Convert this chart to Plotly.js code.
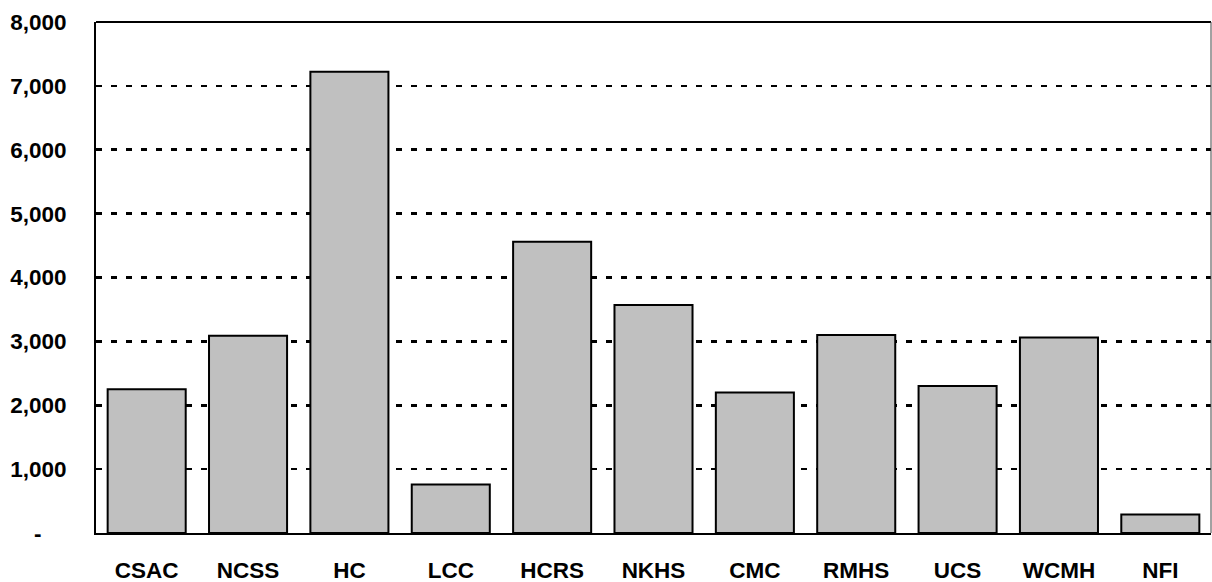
<!DOCTYPE html>
<html>
<head>
<meta charset="utf-8">
<script src="https://cdn.plot.ly/plotly-3.0.1.min.js"></script>
<style>html,body{margin:0;padding:0;background:#fff;}#chart{width:1212px;height:582px;}</style>
</head>
<body>
<div id="chart"></div>
<script>
const categories = ["CSAC","NCSS","HC","LCC","HCRS","NKHS","CMC","RMHS","UCS","WCMH","NFI"];
const values = [2250, 3090, 7220, 760, 4560, 3570, 2200, 3100, 2300, 3060, 290];
const yTickVals = [0,1000,2000,3000,4000,5000,6000,7000,8000];
const yTickText = ["-\u00A0\u00A0\u00A0\u00A0","1,000","2,000","3,000","4,000","5,000","6,000","7,000","8,000"];

const font = {family: "Liberation Sans, Arial, sans-serif", size: 22.5, color: "#000", weight: "bold"};

const trace = {
  type: "bar",
  x: categories,
  y: values,
  marker: {color: "#C0C0C0", line: {color: "#000", width: 2}},
  hoverinfo: "x+y"
};

const layout = {
  width: 1212, height: 582,
  margin: {l: 96, r: 1, t: 22, b: 49},
  paper_bgcolor: "#fff", plot_bgcolor: "#fff",
  bargap: 0.23,
  showlegend: false,
  font: font,
  xaxis: {
    type: "category",
    showgrid: false,
    showline: true, linecolor: "#000", linewidth: 2,
    ticks: "outside", ticklen: 16, tickcolor: "rgba(0,0,0,0)",
    tickfont: font,
    mirror: false
  },
  yaxis: {
    range: [0, 8000],
    tickvals: yTickVals, ticktext: yTickText,
    showgrid: true, gridcolor: "#000", gridwidth: 2.7, griddash: "6px,9px",
    showline: true, linecolor: "#000", linewidth: 2,
    ticks: "outside", ticklen: 23, tickcolor: "rgba(0,0,0,0)",
    tickfont: font,
    zeroline: false
  },
  shapes: [
    {type: "line", xref: "paper", yref: "paper", x0: 0, x1: 1, y0: 1, y1: 1, line: {color: "#000", width: 2}},
    {type: "line", xref: "paper", yref: "paper", x0: 1, x1: 1, y0: 0, y1: 1, line: {color: "#444", width: 1}}
  ]
};

Plotly.newPlot("chart", [trace], layout, {displayModeBar: false, staticPlot: true});
</script>
</body>
</html>
